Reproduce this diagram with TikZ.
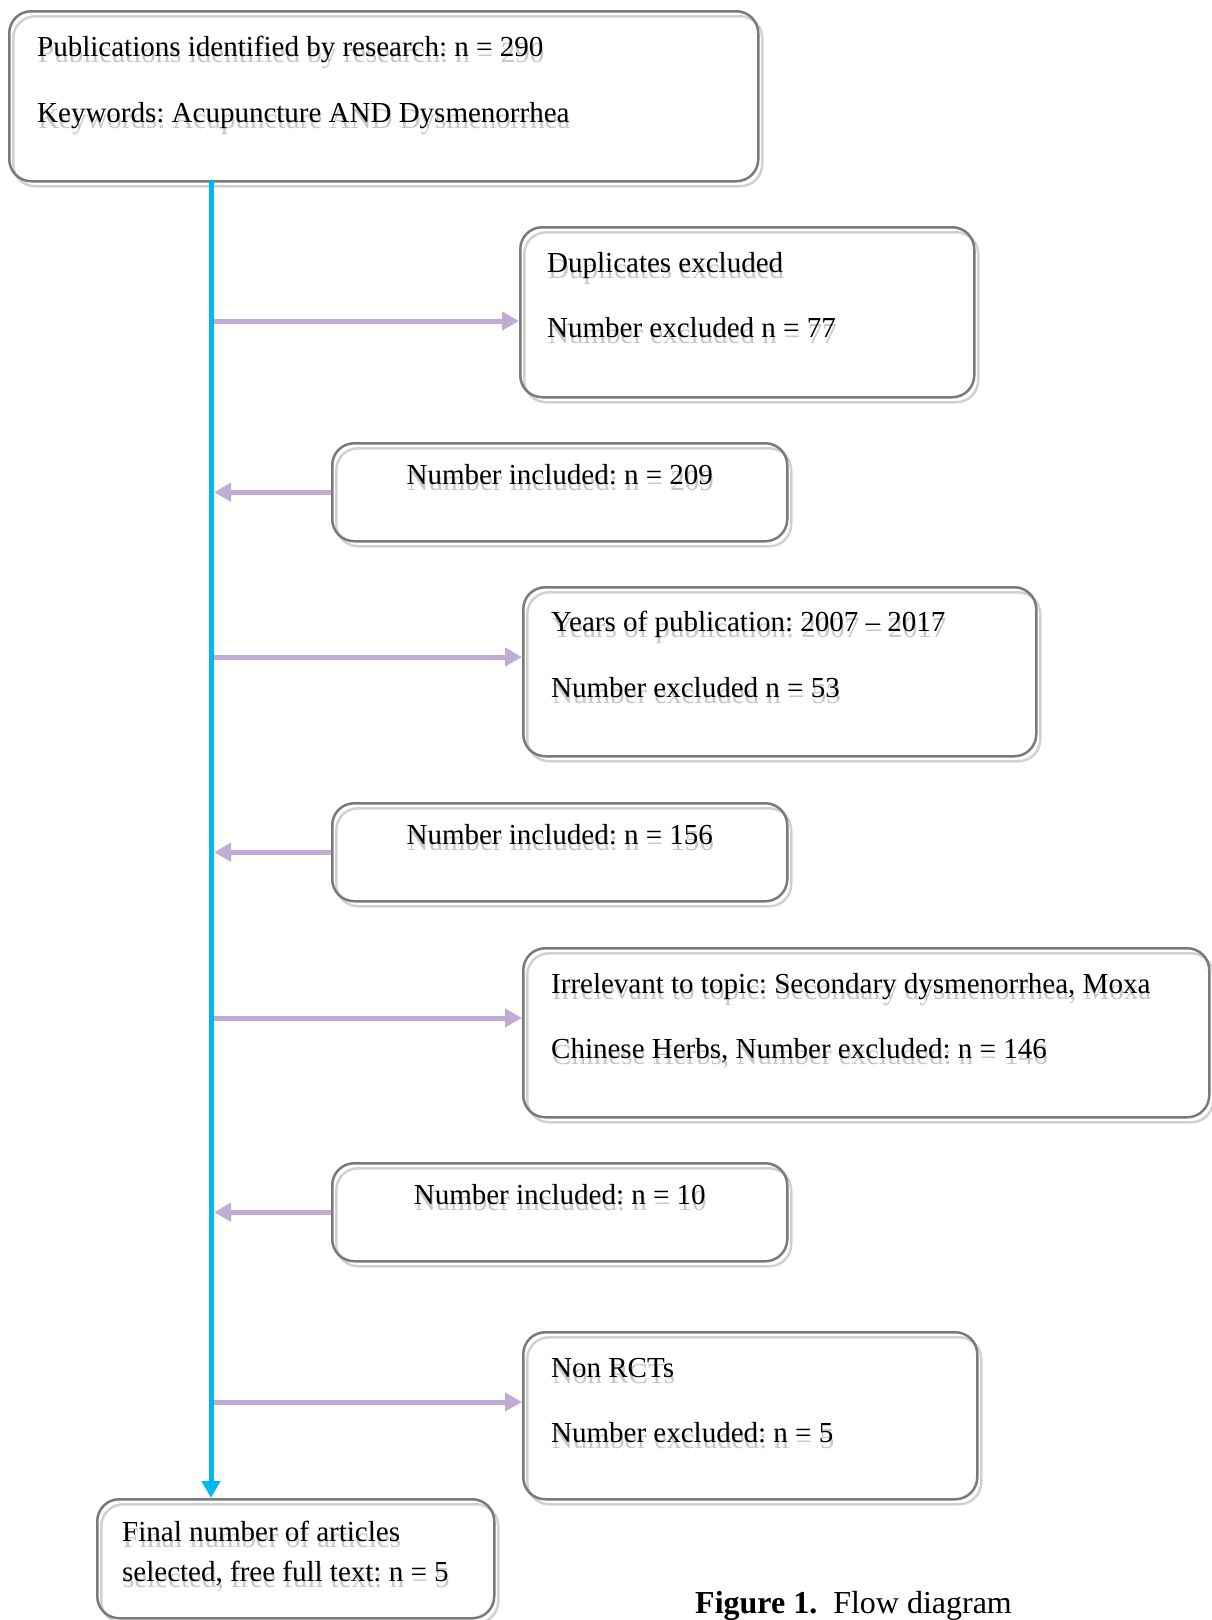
\documentclass[tikz,border=0pt]{standalone}
\usepackage{fontspec}
\setmainfont{Liberation Serif}
\usetikzlibrary{arrows.meta}
\definecolor{flowblue}{RGB}{0,183,239}
\definecolor{lilac}{RGB}{192,172,212}
\newcommand{\shd}[1]{\rlap{\hspace{1pt}\raisebox{-6pt}{\textcolor{black!22}{#1}}}#1}
\frenchspacing

\begin{document}
\begin{tikzpicture}[x=1pt,y=-1pt,
	box/.style={draw=black!52,line width=2.5pt,rounded corners=22pt,inner sep=0pt,anchor=north west,
		preaction={draw=black!18,line width=2.5pt,transform canvas={shift={(4pt,-5pt)}}}},
	txt/.style={inner sep=0pt,anchor=mid west,font=\fontsize{29}{33}\selectfont},
	excl/.style={draw=lilac,line width=5pt,-{Triangle[length=17pt,width=18pt]}},
	main/.style={draw=flowblue,line width=5pt,-{Triangle[length=17pt,width=18pt]}}]
	\useasboundingbox (0,0) rectangle (1211,1620);
	% boxes
	\node[box,minimum width=749pt,minimum height=170pt] (pub) at (8,10) {};
	\node[box,minimum width=454pt,minimum height=170pt] (dup) at (519,226) {};
	\node[box,minimum width=455pt,minimum height=98pt] (incA) at (331,442) {};
	\node[box,minimum width=513pt,minimum height=169pt] (yrs) at (522,586) {};
	\node[box,minimum width=455pt,minimum height=98pt] (incB) at (331,802) {};
	\node[box,minimum width=686pt,minimum height=169pt] (irr) at (522,947) {};
	\node[box,minimum width=455pt,minimum height=98pt] (incC) at (331,1162) {};
	\node[box,minimum width=454pt,minimum height=167pt] (rct) at (522,1331) {};
	\node[box,minimum width=397pt,minimum height=119pt] (fin) at (96,1498) {};
	% texts
	\node[txt] (pubT) at ([shift={(29pt,-44pt)}]pub.north west) {\shd{Publications identified by research: n = 290}};
	\node[txt] (pubK) at ([yshift=-66pt]pubT.mid west) {\shd{Keywords: Acupuncture AND Dysmenorrhea}};
	\node[txt] (dupT) at ([shift={(28pt,-44pt)}]dup.north west) {\shd{Duplicates excluded}};
	\node[txt] (dupN) at ([yshift=-65pt]dupT.mid west) {\shd{Number excluded n = 77}};
	\node[txt,anchor=mid] (incAT) at ([yshift=-40pt]incA.north) {\shd{Number included: n = 209}};
	\node[txt] (yrsT) at ([shift={(29pt,-43pt)}]yrs.north west) {\shd{Years of publication: 2007 -- 2017}};
	\node[txt] (yrsN) at ([yshift=-66pt]yrsT.mid west) {\shd{Number excluded n = 53}};
	\node[txt,anchor=mid] (incBT) at ([yshift=-40pt]incB.north) {\shd{Number included: n = 156}};
	\node[txt] (irrT) at ([shift={(29pt,-44pt)}]irr.north west) {\shd{Irrelevant to topic: Secondary dysmenorrhea, Moxa}};
	\node[txt] (irrN) at ([yshift=-65pt]irrT.mid west) {\shd{Chinese Herbs, Number excluded: n = 146}};
	\node[txt,anchor=mid] (incCT) at ([yshift=-40pt]incC.north) {\shd{Number included: n = 10}};
	\node[txt] (rctT) at ([shift={(29pt,-44pt)}]rct.north west) {\shd{Non RCTs}};
	\node[txt] (rctN) at ([yshift=-65pt]rctT.mid west) {\shd{Number excluded: n = 5}};
	\node[txt] (finT) at ([shift={(26pt,-41pt)}]fin.north west) {\shd{Final number of articles}};
	\node[txt] (finN) at ([yshift=-40pt]finT.mid west) {\shd{selected, free full text: n = 5}};
	\node[txt,font=\fontsize{32}{36}\selectfont] (cap) at (695,1611) {\textbf{Figure 1.}\ \ Flow diagram};
	% connectors
	\coordinate (trunk) at (211,180);
	\coordinate (branch) at (214,180);
	\draw[main] (trunk) -- (trunk |- fin.north);
	\draw[excl] (branch |- 0,321) -- (dup.west |- 0,321);
	\draw[excl] (incA.west) -- (branch |- incA.west);
	\draw[excl] (branch |- 0,657) -- (yrs.west |- 0,657);
	\draw[excl] (incB.west) -- (branch |- incB.west);
	\draw[excl] (branch |- 0,1018) -- (irr.west |- 0,1018);
	\draw[excl] (incC.west) -- (branch |- incC.west);
	\draw[excl] (branch |- 0,1402) -- (rct.west |- 0,1402);
\end{tikzpicture}
\end{document}
